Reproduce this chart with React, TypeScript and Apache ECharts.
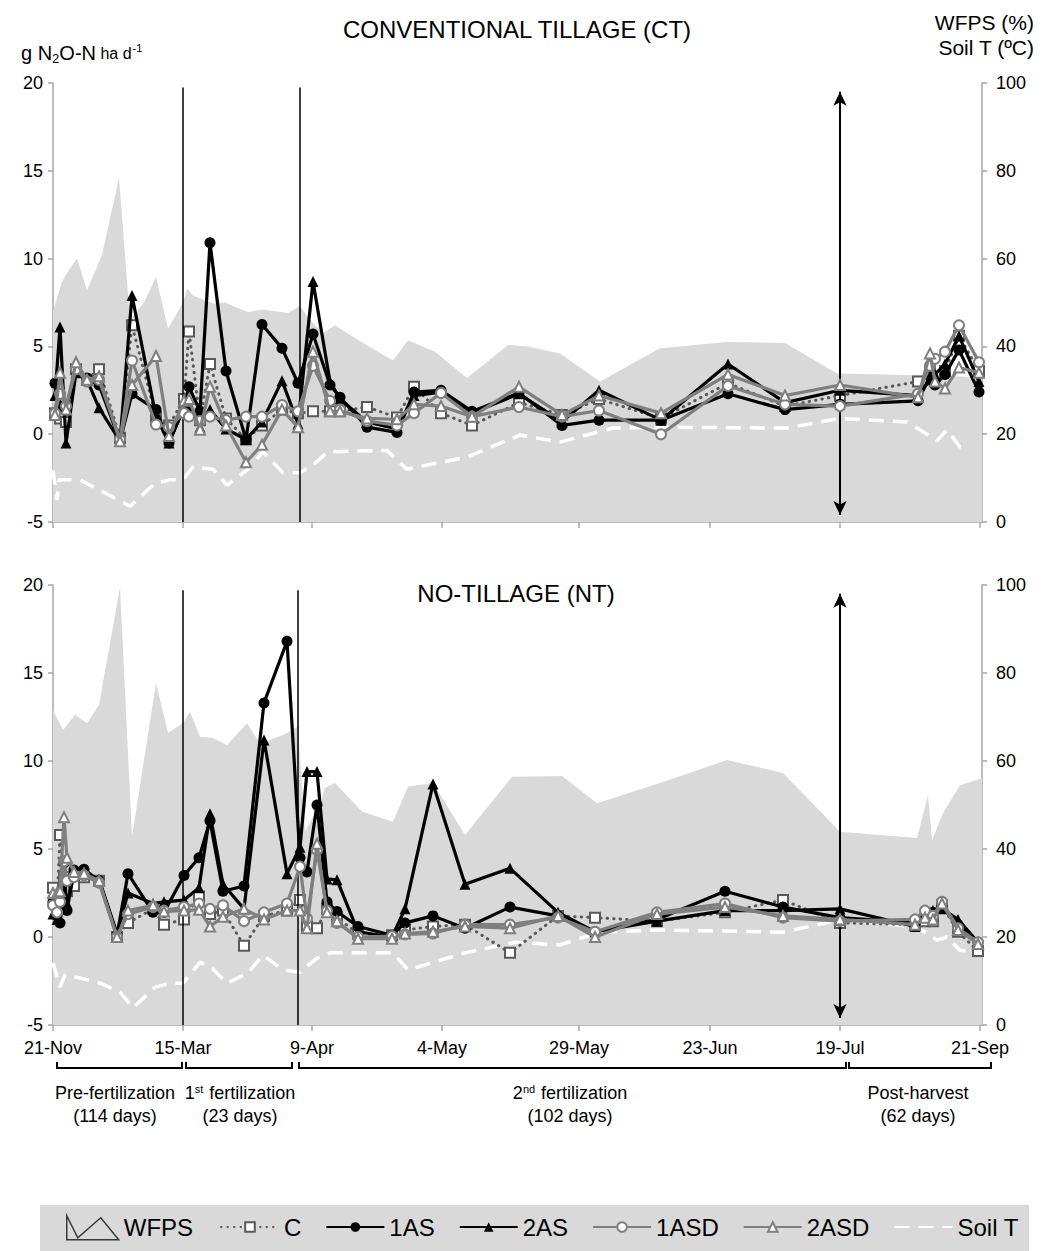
import React, { useEffect, useRef } from "react";
import * as echarts from "echarts";

// ---------- X axis: compressed sampling timeline (position units along the axis) ----------
const X_MAX = 929;
const X_TICKS = [0, 130, 259, 389, 526, 657, 787, 927];
const X_TICK_LABELS = ["21-Nov", "15-Mar", "9-Apr", "4-May", "29-May", "23-Jun", "19-Jul", "21-Sep"];

// Period markers (axis positions)
const CT_PERIOD_LINES = [130, 247];
const NT_PERIOD_LINES = [130, 245];
const HARVEST_ARROW = 787;
const PERIOD_SPANS = [[4, 129], [133, 239], [246, 793], [796, 938]];
const PERIOD_CENTERS = [62, 187, 517, 865];
const PERIOD_NAMES = ["Pre-fertilization", "1{sup|st} fertilization", "2{sup|nd} fertilization", "Post-harvest"];
const PERIOD_DAYS = ["(114 days)", "(23 days)", "(102 days)", "(62 days)"];

// ---------- CONVENTIONAL TILLAGE (CT) : N2O fluxes, g N2O-N ha-1 d-1 ----------
const CT_X = [2, 7, 13, 23, 34, 46, 67, 79, 103, 116, 131, 136, 147, 157, 173, 193, 209, 229, 245, 260, 277, 287, 314, 344, 361, 388, 419, 466, 509, 546, 608, 675, 732, 787, 865, 877, 882, 892, 906, 926];
const CT_C = [1.2, 0.9, 0.7, 3.7, 3.1, 3.7, -0.2, 6.2, 1.0, 0.5, 2.0, 5.85, 0.8, 4.0, 0.9, -0.3, 0.5, 1.4, 1.2, 1.3, 1.3, 1.3, 1.55, 0.95, 2.7, 1.2, 0.5, 1.8, 1.1, 2.0, 0.9, 2.9, 1.6, 2.2, 3.0, 3.6, 3.3, 3.6, 5.6, 3.6];
const CT_1AS = [2.9, 1.6, 1.4, 3.6, 3.2, 2.8, -0.4, 2.3, 1.4, -0.5, 1.5, 2.7, 1.3, 10.9, 3.6, -0.3, 6.25, 4.9, 2.9, 5.7, 2.8, 2.1, 0.4, 0.1, 2.4, 2.5, 1.3, 2.35, 0.5, 0.8, 0.8, 2.3, 1.4, 1.7, 1.9, 3.3, 2.8, 3.4, 4.8, 2.4];
const CT_2AS = [2.2, 6.1, -0.5, 3.5, 3.1, 1.5, -0.4, 7.9, 1.0, -0.5, 1.6, 1.6, 0.4, 1.4, 0.3, -0.3, 0.7, 3.05, 0.6, 8.7, 3.0, 2.0, 0.7, 0.3, 2.2, 2.4, 1.2, 2.3, 0.7, 2.5, 0.8, 4.0, 1.8, 2.5, 2.2, 3.1, 3.4, 4.0, 5.6, 3.0];
const CT_1ASD = [1.2, 2.3, 1.6, 3.7, 3.0, 3.1, -0.3, 4.2, 0.55, 0.4, 1.2, 1.0, 0.75, 1.0, 0.8, 1.0, 1.0, 1.66, 1.3, 3.9, 1.9, 1.4, 0.75, 0.5, 1.2, 2.35, 1.0, 1.55, 1.0, 1.35, 0.0, 2.75, 1.7, 1.6, 2.3, 3.9, 4.3, 4.7, 6.2, 4.1];
const CT_2ASD = [1.1, 3.5, 1.4, 4.1, 3.1, 3.3, -0.4, 2.8, 4.45, -0.1, 1.9, 2.0, 0.26, 2.7, 0.5, -1.6, -0.6, 1.4, 0.4, 4.7, 1.3, 1.3, 0.9, 0.85, 1.7, 1.6, 1.0, 2.7, 1.1, 2.2, 1.2, 3.4, 2.2, 2.8, 2.1, 4.6, 3.0, 2.6, 3.8, 3.5];

// CT WFPS (%) and soil temperature (ºC)
const CT_WFPS_X = [0, 9, 14, 24, 34, 49, 66, 77, 91, 103, 115, 130, 134, 140, 160, 172, 195, 209, 235, 247, 257, 270, 282, 310, 340, 355, 382, 414, 455, 475, 507, 547, 607, 674, 732, 784, 867, 929];
const CT_WFPS = [48, 54.7, 56.7, 60, 52.8, 60.8, 78.4, 46, 50, 55.8, 44, 50, 53.2, 51.6, 49.8, 50, 47.8, 48.4, 47.6, 49.2, 46, 43, 44.8, 40.8, 36.8, 41.4, 38.8, 32.8, 40.3, 40, 38.4, 32, 39.6, 41, 40.8, 33.8, 33.4, 33];
const CT_T_X = [0, 4, 6, 27, 47, 77, 102, 117, 130, 140, 160, 174, 195, 210, 230, 247, 260, 275, 334, 354, 414, 467, 507, 560, 607, 734, 787, 854, 874, 884, 894, 907, 917];
const CT_T = [11.8, 5, 9.6, 9.6, 7.2, 3.6, 8.8, 9.6, 9.6, 12.6, 12, 8.4, 12, 16, 11.2, 11.2, 13, 16, 16.3, 12, 14.8, 19.8, 18.2, 21.4, 21.6, 21.4, 23.6, 22.8, 20, 18.5, 21, 17.1, 16.8];

// ---------- NO-TILLAGE (NT) ----------
const NT_X = [0, 4, 7, 11, 14, 21, 31, 46, 64, 75, 100, 111, 131, 146, 157, 170, 191, 211, 234, 247, 254, 264, 274, 284, 305, 339, 352, 380, 412, 457, 505, 542, 604, 672, 730, 787, 862, 872, 880, 889, 905, 925];
const NT_C = [2.8, 1.8, 5.8, 3.4, 2.6, 2.9, 3.4, 3.2, 0.0, 0.8, 1.6, 0.7, 1.0, 2.3, 1.3, 1.5, -0.5, 1.2, 1.5, 2.1, 0.6, 0.5, 1.6, 1.1, 0.2, 0.1, 0.4, 0.6, 0.7, -0.9, 1.2, 1.1, 0.9, 1.4, 2.1, 0.8, 0.7, 0.9, 0.9, 1.8, 0.3, -0.8];
const NT_1AS = [2.0, 1.2, 0.8, 4.2, 1.5, 3.8, 3.85, 3.2, 0.1, 3.6, 1.4, 1.4, 3.5, 4.5, 6.6, 2.6, 2.9, 13.3, 16.8, 4.5, 3.7, 7.5, 2.0, 1.45, 0.6, 0.1, 0.8, 1.2, 0.5, 1.7, 1.2, 0.3, 1.0, 2.6, 1.7, 1.1, 0.8, 1.3, 1.4, 1.7, 0.7, -0.3];
const NT_2AS = [1.3, 1.0, 1.6, 2.5, 1.9, 3.5, 3.6, 3.3, 0.2, 2.5, 1.9, 2.0, 2.1, 2.8, 7.0, 3.0, 1.6, 11.2, 3.6, 5.1, 9.4, 9.4, 3.3, 3.25, 0.3, 0.0, 1.6, 8.7, 3.0, 3.9, 1.4, 0.3, 0.9, 1.5, 1.5, 1.6, 0.6, 1.4, 1.5, 1.6, 1.0, -0.3];
const NT_1ASD = [1.8, 1.4, 2.0, 4.3, 3.2, 3.4, 3.5, 3.1, 0.0, 1.3, 1.7, 1.5, 1.7, 1.9, 1.6, 1.8, 0.9, 1.4, 1.9, 4.0, 1.05, 4.95, 1.5, 0.8, 0.0, 0.05, 0.15, 0.2, 0.7, 0.7, 1.1, 0.3, 1.4, 1.9, 1.1, 0.9, 1.0, 1.5, 1.2, 2.0, 0.5, -0.3];
const NT_2ASD = [2.5, 2.5, 2.6, 6.8, 4.5, 3.7, 3.6, 3.2, 0.0, 1.5, 1.8, 1.45, 1.5, 1.55, 0.6, 1.15, 1.6, 1.0, 1.5, 1.5, 0.5, 5.3, 1.4, 0.9, -0.1, -0.1, 0.2, 0.3, 0.6, 0.5, 1.2, 0.0, 1.3, 1.7, 1.2, 1.0, 0.7, 1.1, 1.0, 1.9, 0.4, -0.4];

const NT_WFPS_X = [0, 10, 22, 34, 46, 67, 79, 103, 115, 130, 137, 147, 160, 174, 194, 207, 230, 245, 252, 267, 272, 282, 309, 340, 355, 380, 412, 459, 509, 544, 607, 674, 730, 787, 864, 875, 879, 890, 907, 929];
const NT_WFPS = [71.6, 67, 70.5, 68.6, 72.7, 99.5, 42.8, 77.7, 66.4, 68.6, 71.2, 65.5, 65.2, 63.6, 68.6, 64, 65.9, 67.8, 44, 50, 53.9, 55, 48.5, 46.2, 54.2, 55, 43.2, 56.4, 56.6, 50.4, 55, 60.2, 57.3, 43.9, 42.5, 52.3, 42, 48.2, 54.5, 56.1];
const NT_T_X = [0, 7, 12, 27, 47, 67, 80, 102, 117, 130, 147, 160, 174, 195, 210, 230, 247, 264, 277, 340, 355, 412, 462, 507, 547, 607, 730, 787, 864, 884, 894, 907, 920];
const NT_T = [14.1, 8.6, 11.4, 10.7, 9.5, 7.5, 3.9, 8.6, 9.5, 9.5, 14.3, 12.7, 9.5, 11.8, 15.9, 12.5, 12, 15.2, 16.4, 16.4, 12.5, 16.4, 18.8, 18.2, 21.1, 21.6, 21.1, 23.9, 22.3, 19.3, 20, 17, 16.6];

// ---------- styling ----------
const FONT = "'Liberation Sans', Arial, Helvetica, sans-serif";
const AXIS_GREY = "#a6a6a6";
const DARK_GREY = "#595959";
const MID_GREY = "#7f7f7f";
const AREA_GREY = "#d9d9d9";

const pairs = (xs: number[], ys: number[]) => xs.map((x, i) => [x, ys[i]]);

const GRIDS = [
  { left: 53, top: 83, width: 929, height: 439 },
  { left: 53, top: 585, width: 929, height: 440 },
];

function xAxis(gridIndex: number, labels: boolean) {
  return {
    type: "value",
    gridIndex,
    min: 0,
    max: X_MAX,
    axisLine: { show: true, onZero: false, lineStyle: { color: AXIS_GREY, width: 1.5 } },
    axisTick: { show: true, customValues: X_TICKS, length: 6, inside: false, lineStyle: { color: AXIS_GREY, width: 1.5 } },
    axisLabel: {
      show: labels,
      customValues: X_TICKS,
      formatter: (v: number) => {
        const i = X_TICKS.indexOf(v);
        return i >= 0 ? X_TICK_LABELS[i] : "";
      },
      fontSize: 18,
      color: "#000",
      fontFamily: FONT,
      margin: 14,
    },
    splitLine: { show: false },
  };
}

function yAxis(gridIndex: number, side: "left" | "right") {
  const left = side === "left";
  return {
    type: "value",
    gridIndex,
    position: side,
    min: left ? -5 : 0,
    max: left ? 20 : 100,
    interval: left ? 5 : 20,
    axisLine: { show: true, onZero: false, lineStyle: { color: AXIS_GREY, width: 1.5 } },
    axisTick: { show: true, length: 5, lineStyle: { color: AXIS_GREY, width: 1.5 } },
    axisLabel: { fontSize: 18, color: "#000", fontFamily: FONT, margin: left ? 10 : 14 },
    splitLine: { show: false },
  };
}

const STYLE_WFPS = {
  symbol: "none",
  lineStyle: { width: 0, color: AREA_GREY },
  itemStyle: { color: AREA_GREY },
  areaStyle: { color: AREA_GREY, opacity: 1 },
  z: 1,
  silent: true,
};
const STYLE_T = {
  symbol: "none",
  lineStyle: { color: "#ffffff", width: 3.5, type: [15, 9] },
  itemStyle: { color: "#ffffff" },
  z: 2,
};
const STYLE_C = {
  symbol: "rect",
  symbolSize: 10,
  lineStyle: { color: DARK_GREY, width: 3, type: [0.5, 6], cap: "round" },
  itemStyle: { color: "#ffffff", borderColor: DARK_GREY, borderWidth: 2 },
  z: 3,
};
const STYLE_1AS = {
  symbol: "circle",
  symbolSize: 11,
  lineStyle: { color: "#000000", width: 3.2 },
  itemStyle: { color: "#000000" },
  z: 4,
};
const STYLE_2AS = {
  symbol: "triangle",
  symbolSize: 11,
  lineStyle: { color: "#000000", width: 3.2 },
  itemStyle: { color: "#000000" },
  z: 5,
};
const STYLE_1ASD = {
  symbol: "circle",
  symbolSize: 10,
  lineStyle: { color: MID_GREY, width: 3.2 },
  itemStyle: { color: "#ffffff", borderColor: MID_GREY, borderWidth: 2 },
  z: 6,
};
const STYLE_2ASD = {
  symbol: "triangle",
  symbolSize: 10,
  lineStyle: { color: MID_GREY, width: 3.2 },
  itemStyle: { color: "#ffffff", borderColor: MID_GREY, borderWidth: 2 },
  z: 7,
};

function periodMarks(lines: number[], top: number) {
  return {
    silent: true,
    symbol: "none",
    label: { show: false },
    emphasis: { disabled: true },
    lineStyle: { color: "#000000", width: 1.5, type: "solid" },
    data: [
      ...lines.map((u) => [{ coord: [u, -5] }, { coord: [u, top] }]),
      [
        { coord: [HARVEST_ARROW, -4.6], symbol: "arrow", symbolSize: [10, 14], lineStyle: { width: 2 } },
        { coord: [HARVEST_ARROW, 19.5], symbol: "arrow", symbolSize: [10, 14], lineStyle: { width: 2 } },
      ],
    ],
  };
}

function panel(
  p: number,
  d: { x: number[]; c: number[]; a1: number[]; a2: number[]; d1: number[]; d2: number[]; wx: number[]; w: number[]; tx: number[]; t: number[]; lines: number[]; top: number }
) {
  const xi = p;
  const yl = p * 2;
  const yr = p * 2 + 1;
  const base = { type: "line", xAxisIndex: xi, animation: false };
  return [
    { ...base, ...STYLE_WFPS, name: "WFPS", yAxisIndex: yr, data: pairs(d.wx, d.w) },
    { ...base, ...STYLE_T, name: "Soil T", yAxisIndex: yr, data: pairs(d.tx, d.t) },
    { ...base, ...STYLE_C, name: "C", yAxisIndex: yl, data: pairs(d.x, d.c), markLine: periodMarks(d.lines, d.top) },
    { ...base, ...STYLE_1AS, name: "1AS", yAxisIndex: yl, data: pairs(d.x, d.a1) },
    { ...base, ...STYLE_2AS, name: "2AS", yAxisIndex: yl, data: pairs(d.x, d.a2) },
    { ...base, ...STYLE_1ASD, name: "1ASD", yAxisIndex: yl, data: pairs(d.x, d.d1) },
    { ...base, ...STYLE_2ASD, name: "2ASD", yAxisIndex: yl, data: pairs(d.x, d.d2) },
  ];
}

const LEGEND_TEXT = { fontSize: 24, fontFamily: FONT, color: "#000" };

function buildOption() {
  return {
    animation: false,
    textStyle: { fontFamily: FONT },
    grid: GRIDS,
    xAxis: [xAxis(0, false), xAxis(1, true)],
    yAxis: [yAxis(0, "left"), yAxis(0, "right"), yAxis(1, "left"), yAxis(1, "right")],
    legend: [
      {
        left: 66,
        top: 1215,
        padding: 0,
        itemWidth: 52,
        itemHeight: 24,
        selectedMode: false,
        z: 5,
        textStyle: LEGEND_TEXT,
        data: [
          {
            name: "WFPS",
            icon: "path://M0,0 L0,24 L52,24 L34,2 L11,22 Z",
            itemStyle: { color: "rgba(0,0,0,0)", borderColor: "#3a3a3a", borderWidth: 1.5 },
          },
        ],
      },
      {
        left: 220,
        top: 1215,
        padding: 0,
        itemWidth: 58,
        itemHeight: 12,
        itemGap: 24,
        selectedMode: false,
        z: 5,
        textStyle: LEGEND_TEXT,
        data: ["C", "1AS", "2AS", "1ASD", "2ASD", { name: "Soil T", itemStyle: { opacity: 0 } }],
      },
    ],
    series: [
      ...panel(0, { x: CT_X, c: CT_C, a1: CT_1AS, a2: CT_2AS, d1: CT_1ASD, d2: CT_2ASD, wx: CT_WFPS_X, w: CT_WFPS, tx: CT_T_X, t: CT_T, lines: CT_PERIOD_LINES, top: 19.75 }),
      ...panel(1, { x: NT_X, c: NT_C, a1: NT_1AS, a2: NT_2AS, d1: NT_1ASD, d2: NT_2ASD, wx: NT_WFPS_X, w: NT_WFPS, tx: NT_T_X, t: NT_T, lines: NT_PERIOD_LINES, top: 19.7 }),
    ],
  };
}

function buildGraphic(px: (u: number) => number) {
  const txt = (x: number, y: number, text: string, fontSize: number, align = "center", extra: any = {}) => ({
    type: "text",
    x,
    y,
    z: 10,
    style: { text, fontSize, fontFamily: FONT, fill: "#000", align, verticalAlign: "middle", ...extra },
  });
  const sup = { sup: { fontSize: 11, fontFamily: FONT, padding: [0, 1, 9, 0] } };
  const els: any[] = [
    { type: "rect", z: 0, shape: { x: 40, y: 1205, width: 989, height: 60 }, style: { fill: AREA_GREY } },
    txt(517, 29, "CONVENTIONAL TILLAGE (CT)", 24),
    txt(516, 593, "NO-TILLAGE (NT)", 24),
    txt(1034, 22, "WFPS (%)", 21, "right"),
    txt(1034, 47, "Soil T (ºC)", 21, "right"),
    txt(21, 53, "{a|g N}{s|2}{a|O-N}{b| ha d}{p|-1}", 20, "left", {
      rich: {
        a: { fontSize: 20, fontFamily: FONT },
        s: { fontSize: 13, fontFamily: FONT, padding: [10, 0, 0, 0] },
        b: { fontSize: 16, fontFamily: FONT },
        p: { fontSize: 11, fontFamily: FONT, padding: [0, 0, 10, 1] },
      },
    }),
  ];
  PERIOD_SPANS.forEach(([a, b]) => {
    const x1 = px(a);
    const x2 = px(b);
    els.push({
      type: "polyline",
      z: 10,
      shape: { points: [[x1, 1062], [x1, 1068], [x2, 1068], [x2, 1062]] },
      style: { stroke: "#000", lineWidth: 2, fill: "none" },
    });
  });
  PERIOD_CENTERS.forEach((u, i) => {
    const x = px(u);
    els.push(txt(x, 1093, PERIOD_NAMES[i], 18, "center", { rich: sup }));
    els.push(txt(x, 1116, PERIOD_DAYS[i], 18));
  });
  return els;
}

export default function App() {
  const ref = useRef<HTMLDivElement>(null);
  useEffect(() => {
    if (!ref.current) return;
    const chart = echarts.init(ref.current, null, { renderer: "svg" });
    chart.setOption(buildOption() as any);
    const px = (u: number) => chart.convertToPixel({ xAxisIndex: 1 }, u) as number;
    chart.setOption({ graphic: buildGraphic(px) } as any);
    return () => chart.dispose();
  }, []);
  return <div ref={ref} style={{ position: "absolute", left: 0, top: 0, width: 1050, height: 1251 }} />;
}
